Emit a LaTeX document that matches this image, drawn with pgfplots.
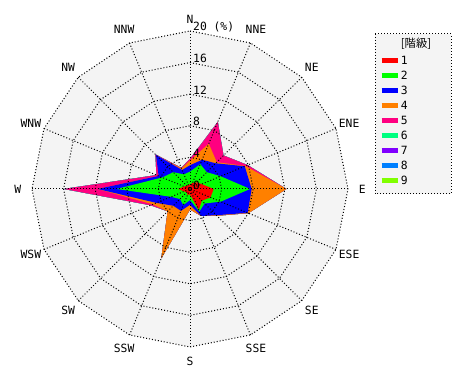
\documentclass[border=0pt]{standalone}
\usepackage{pgfplots}
\pgfplotsset{compat=1.18}
\usepackage{pgfplotstable}
\usepackage{fontspec}
\newfontfamily\mono{DejaVu Sans Mono}
\newfontfamily\cjk{Noto Sans CJK JP}
\newcommand\lf{\mono\fontsize{8.5pt}{10pt}\selectfont}

\definecolor{bgc}{HTML}{F4F4F4}
\definecolor{k1}{HTML}{FF0000}
\definecolor{k2}{HTML}{00FF00}
\definecolor{k3}{HTML}{0000FF}
\definecolor{k4}{HTML}{FF8000}
\definecolor{k5}{HTML}{FF0080}
\definecolor{k6}{HTML}{00FF80}
\definecolor{k7}{HTML}{8000FF}
\definecolor{k8}{HTML}{0080FF}
\definecolor{k9}{HTML}{80FF00}

% cumulative frequency (%) per direction; ang = math angle (N=90, clockwise decreasing)
\pgfplotstableread{
ang     c1   c2   c3   c4   c5   c6   c7   c8   c9
90      0.6  2.2  3.0  3.6  3.8  3.8  3.8  3.8  3.8
67.5    0.8  3.4  4.0  6.2  9.2  9.2  9.2  9.2  9.2
45      1.2  3.0  4.6  4.8  6.0  6.0  6.0  6.0  6.0
22.5    1.6  4.2  7.5  7.6  7.9  7.9  7.9  7.9  7.9
0       3.0  7.6  7.8  12.2 12.2 12.2 12.2 12.2 12.2
-22.5   2.8  4.2  7.9  8.0  8.0  8.0  8.0  8.0  8.0
-45     2.1  2.6  4.7  4.8  4.8  4.8  4.8  4.8  4.8
-67.5   2.9  3.1  3.7  3.7  3.7  3.7  3.7  3.7  3.7
-90     0.7  1.4  2.0  2.6  2.6  2.6  2.6  2.6  2.6
-112.5  0.8  2.2  3.0  9.5  9.5  9.5  9.5  9.5  9.5
-135    0.6  1.8  3.0  4.0  4.0  4.0  4.0  4.0  4.0
-157.5  0.8  2.6  4.6  5.1  5.4  5.4  5.4  5.4  5.4
-180    1.5  9.3  11.7 11.7 16.0 16.0 16.0 16.0 16.0
-202.5  0.8  3.8  4.3  4.3  4.6  4.6  4.6  4.6  4.6
-225    0.6  3.0  6.1  6.1  6.2  6.2  6.2  6.2  6.2
-247.5  0.5  2.0  2.6  2.8  2.9  2.9  2.9  2.9  2.9
-270    0.6  2.2  3.0  3.6  3.8  3.8  3.8  3.8  3.8
}\rose

\pgfplotstableread{
ang     r4 r8 r12 r16 r20
90      4  8  12  16  20
67.5    4  8  12  16  20
45      4  8  12  16  20
22.5    4  8  12  16  20
0       4  8  12  16  20
-22.5   4  8  12  16  20
-45     4  8  12  16  20
-67.5   4  8  12  16  20
-90     4  8  12  16  20
-112.5  4  8  12  16  20
-135    4  8  12  16  20
-157.5  4  8  12  16  20
-180    4  8  12  16  20
-202.5  4  8  12  16  20
-225    4  8  12  16  20
-247.5  4  8  12  16  20
-270    4  8  12  16  20
}\gridt

\begin{document}
\begin{tikzpicture}
\begin{axis}[
  scale only axis, width=352.5pt, height=285pt,
  xmin=-24.05, xmax=35.44, ymin=-24.18, ymax=23.92,
  hide axis, clip=false,
  at={(0,0)}, anchor=south west,
  griddot/.style={black, line width=0.75pt, dash pattern=on 0.75pt off 1.5pt},
  legend image code/.code={\draw[#1, line width=3.75pt] (0pt,0pt) -- (12pt,0pt);},
  legend style={at={(axis cs:23.9,16.96)}, anchor=north west, draw=none, fill=none,
    font=\lf, inner sep=0pt, row sep=3.75pt,
    nodes={inner sep=0.6pt, text height=6.3pt, text depth=0pt},
    cells={anchor=west}},
]
\path (rel axis cs:0,0) rectangle (rel axis cs:1,1);
% background
\addplot[data cs=polar, fill=bgc, draw=none, forget plot] table[x=ang, y=r20] \gridt;
% stacked areas (largest first)
\addplot[data cs=polar, fill=k9, draw=none, forget plot] table[x=ang, y=c9] \rose;
\addplot[data cs=polar, fill=k8, draw=none, forget plot] table[x=ang, y=c8] \rose;
\addplot[data cs=polar, fill=k7, draw=none, forget plot] table[x=ang, y=c7] \rose;
\addplot[data cs=polar, fill=k6, draw=none, forget plot] table[x=ang, y=c6] \rose;
\addplot[data cs=polar, fill=k5, draw=none, forget plot] table[x=ang, y=c5] \rose;
\addplot[data cs=polar, fill=k4, draw=none, forget plot] table[x=ang, y=c4] \rose;
\addplot[data cs=polar, fill=k3, draw=none, forget plot] table[x=ang, y=c3] \rose;
\addplot[data cs=polar, fill=k2, draw=none, forget plot] table[x=ang, y=c2] \rose;
\addplot[data cs=polar, fill=k1, draw=none, forget plot] table[x=ang, y=c1] \rose;
% grid rings
\addplot[data cs=polar, griddot, forget plot] table[x=ang, y=r4] \gridt;
\addplot[data cs=polar, griddot, forget plot] table[x=ang, y=r8] \gridt;
\addplot[data cs=polar, griddot, forget plot] table[x=ang, y=r12] \gridt;
\addplot[data cs=polar, griddot, forget plot] table[x=ang, y=r16] \gridt;
\addplot[data cs=polar, griddot, forget plot] table[x=ang, y=r20] \gridt;
% spokes
\addplot[data cs=polar, griddot, forget plot] coordinates {(90,20) (270,20)};
\addplot[data cs=polar, griddot, forget plot] coordinates {(67.5,20) (247.5,20)};
\addplot[data cs=polar, griddot, forget plot] coordinates {(45,20) (225,20)};
\addplot[data cs=polar, griddot, forget plot] coordinates {(22.5,20) (202.5,20)};
\addplot[data cs=polar, griddot, forget plot] coordinates {(0,20) (180,20)};
\addplot[data cs=polar, griddot, forget plot] coordinates {(-22.5,20) (157.5,20)};
\addplot[data cs=polar, griddot, forget plot] coordinates {(-45,20) (135,20)};
\addplot[data cs=polar, griddot, forget plot] coordinates {(-67.5,20) (112.5,20)};
% direction labels
\addplot[data cs=polar, draw=none, mark=none, forget plot, nodes near coords,
  point meta=explicit symbolic, nodes near coords align={center},
  every node near coord/.append style={font=\lf, anchor=center, inner sep=0pt}]
  coordinates {(90,21.5)[N] (67.5,21.8)[NNE] (45,21.8)[NE] (22.5,21.8)[ENE]
  (0,21.8)[E] (-22.5,21.8)[ESE] (-45,21.8)[SE] (-67.5,21.8)[SSE]
  (-90,21.8)[S] (-112.5,21.8)[SSW] (-135,21.8)[SW] (-157.5,21.8)[WSW]
  (-180,21.8)[W] (-202.5,21.8)[WNW] (-225,21.8)[NW] (-247.5,21.8)[NNW]};
% radial tick labels
\addplot[data cs=polar, draw=none, mark=none, forget plot, nodes near coords,
  point meta=explicit symbolic,
  every node near coord/.append style={font=\lf, anchor=west, inner sep=0pt, xshift=2.2pt, yshift=3pt}]
  coordinates {(90,0)[0] (90,4)[4] (90,8)[8] (90,12)[12] (90,16)[16] (90,20)[20 (\%)]};
% legend frame and title
\draw[black, line width=0.75pt, dash pattern=on 0.75pt off 1.5pt, fill=bgc]
  (axis cs:23.42,19.62) rectangle (axis cs:33.04,-0.63);
\node[font={\cjk\fontsize{8.5pt}{10pt}\selectfont}, anchor=center] at (axis cs:28.61,18.35) {[階級]};
\addlegendimage{k1}\addlegendentry{1}
\addlegendimage{k2}\addlegendentry{2}
\addlegendimage{k3}\addlegendentry{3}
\addlegendimage{k4}\addlegendentry{4}
\addlegendimage{k5}\addlegendentry{5}
\addlegendimage{k6}\addlegendentry{6}
\addlegendimage{k7}\addlegendentry{7}
\addlegendimage{k8}\addlegendentry{8}
\addlegendimage{k9}\addlegendentry{9}
\end{axis}
\end{tikzpicture}
\end{document}
